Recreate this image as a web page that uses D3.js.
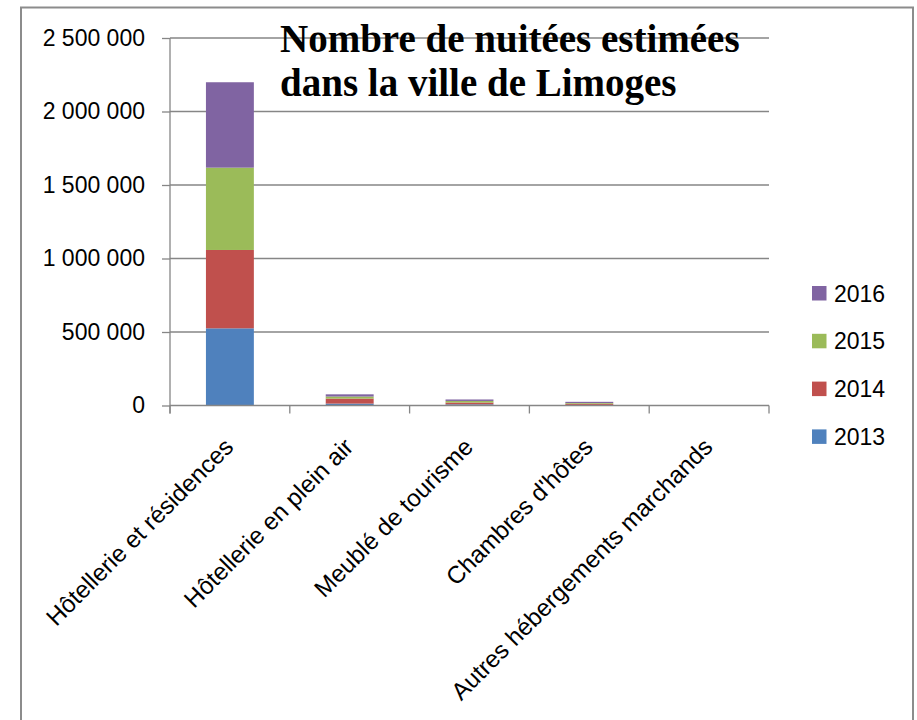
<!DOCTYPE html>
<html>
<head>
<meta charset="utf-8">
<script src="https://cdn.jsdelivr.net/npm/d3@7/dist/d3.min.js"></script>
<style>
  html, body { margin: 0; padding: 0; background: #fff; }
  svg { display: block; }
</style>
</head>
<body>
<svg id="chart" width="917" height="720"></svg>
<script>
// ---- data ----
const categories = ["Hôtellerie et résidences", "Hôtellerie en plein air", "Meublé de tourisme", "Chambres d'hôtes", "Autres hébergements marchands"];
const years = ["2013", "2014", "2015", "2016"];
const values2013 = [525000, 13000, 8000, 4000, 0];
const values2014 = [533000, 34000, 12000, 8000, 0];
const values2015 = [560000, 14000, 11000, 5000, 0];
const values2016 = [581000, 15000, 10000, 8000, 0];
const yTicks = [0, 500000, 1000000, 1500000, 2000000, 2500000];
const colors = ["#4F81BD", "#C0504D", "#9BBB59", "#8064A2"];
const titleLines = ["Nombre de nuitées estimées", "dans la ville de Limoges"];

const seriesValues = [values2013, values2014, values2015, values2016];
const table = categories.map((c, i) => {
  const row = { category: c };
  years.forEach((y, k) => row[y] = seriesValues[k][i]);
  return row;
});

const svg = d3.select("#chart");
const gridColor = "#868686";

// outer frame
svg.append("rect")
  .attr("x", 21).attr("y", 7.5).attr("width", 892).attr("height", 730)
  .attr("fill", "none").attr("stroke", "#8c8c8c").attr("stroke-width", 2);

const x0 = 170, x1 = 769, yBottom = 405.5, yTop = 38;
const y = d3.scaleLinear().domain([0, 2500000]).range([yBottom, yTop]);
const x = d3.scaleBand().domain(categories).range([x0, x1]).paddingInner(0.6).paddingOuter(0.3);
const xEdge = d3.scaleBand().domain(categories).range([x0, x1]);

const loc = d3.formatLocale({ decimal: ",", thousands: " ", grouping: [3], currency: ["", " €"] });
const fmt = loc.format(",d");

// gridlines
svg.append("g").selectAll("line").data(yTicks.filter(d => d > 0)).join("line")
  .attr("x1", x0).attr("x2", x1)
  .attr("y1", d => y(d)).attr("y2", d => y(d))
  .attr("stroke", gridColor).attr("stroke-width", 1.3);

// stacked bars
const stack = d3.stack().keys(years)(table);
svg.append("g").selectAll("g").data(stack).join("g")
  .attr("fill", (d, i) => colors[i])
  .selectAll("rect").data(d => d).join("rect")
  .attr("x", d => x(d.data.category))
  .attr("width", x.bandwidth())
  .attr("y", d => y(d[1]))
  .attr("height", d => y(d[0]) - y(d[1]));

// y axis
const yAxis = svg.append("g").attr("transform", `translate(${x0},0)`)
  .call(d3.axisLeft(y).tickValues(yTicks).tickFormat(fmt).tickSize(8).tickPadding(17));
yAxis.select(".domain").remove();
yAxis.selectAll(".tick line").attr("stroke", gridColor).attr("stroke-width", 1.3);
yAxis.selectAll(".tick text")
  .attr("font-family", "'Liberation Sans', Arial, sans-serif")
  .attr("font-size", 23).attr("fill", "#000");
svg.append("line").attr("x1", x0).attr("x2", x0).attr("y1", yTop).attr("y2", yBottom + 8)
  .attr("stroke", gridColor).attr("stroke-width", 1.3);

// x axis
svg.append("line").attr("x1", x0).attr("x2", x1).attr("y1", yBottom).attr("y2", yBottom)
  .attr("stroke", gridColor).attr("stroke-width", 1.3);
const edges = categories.map(c => xEdge(c)).concat([x1]);
svg.append("g").selectAll("line").data(edges).join("line")
  .attr("x1", d => d).attr("x2", d => d)
  .attr("y1", yBottom).attr("y2", yBottom + 8)
  .attr("stroke", gridColor).attr("stroke-width", 1.3);

// category labels
svg.append("g").selectAll("text").data(categories).join("text")
  .attr("transform", c => `translate(${xEdge(c) + xEdge.bandwidth() / 2 + 5},${yBottom + 43}) rotate(-45)`)
  .attr("text-anchor", "end")
  .attr("font-family", "'Liberation Sans', Arial, sans-serif")
  .attr("font-size", 24.2).attr("fill", "#000")
  .text(c => c);

// title
svg.append("text")
  .attr("x", 280).attr("y", 52)
  .attr("font-family", "'Liberation Serif', 'Times New Roman', serif")
  .attr("font-weight", "bold").attr("font-size", 39).attr("fill", "#000")
  .selectAll("tspan").data(titleLines).join("tspan")
  .attr("x", 280).attr("dy", (d, i) => i === 0 ? 0 : 44)
  .text(d => d);

// legend (reverse order, 2016 on top)
const legendYears = years.slice().reverse();
const lg = svg.append("g").selectAll("g").data(legendYears).join("g")
  .attr("transform", (d, i) => `translate(812,${293.3 + i * 47.8})`);
lg.append("rect").attr("x", 0).attr("y", -7.3).attr("width", 14.5).attr("height", 14.5)
  .attr("fill", d => colors[years.indexOf(d)]);
lg.append("text").attr("x", 22).attr("y", 0).attr("dy", "0.36em")
  .attr("font-family", "'Liberation Sans', Arial, sans-serif")
  .attr("font-size", 23).attr("fill", "#000")
  .text(d => d);
</script>
</body>
</html>
